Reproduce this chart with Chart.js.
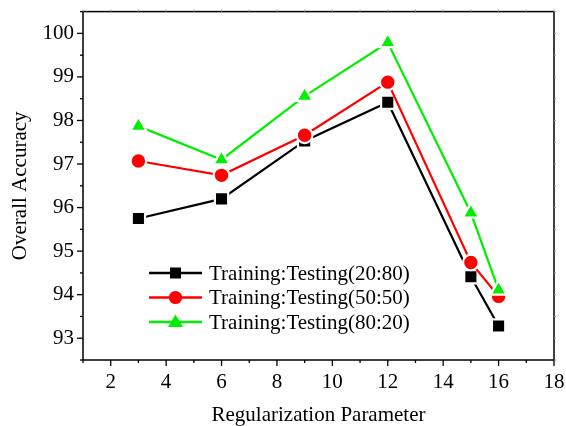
<!DOCTYPE html>
<html>
<head>
<meta charset="utf-8">
<script src="https://cdn.jsdelivr.net/npm/chart.js@4/dist/chart.umd.min.js"></script>
<style>
  html, body { margin: 0; padding: 0; background: #fff; }
  #wrap { width: 566px; height: 426px; }
</style>
</head>
<body>
<div id="wrap"><canvas id="c" width="566" height="426"></canvas></div>
<script>
// ---- data ----
const xValues = [3, 6, 9, 12, 15, 16];
const seriesLabels = ['Training:Testing(20:80)', 'Training:Testing(50:50)', 'Training:Testing(80:20)'];
const acc2080 = [95.75, 96.20, 97.53, 98.42, 94.41, 93.28];
const acc5050 = [97.07, 96.74, 97.66, 98.88, 94.74, 93.96];
const acc8020 = [97.87, 97.10, 98.56, 99.79, 95.88, 94.11];
const xTickLabels = [2, 4, 6, 8, 10, 12, 14, 16, 18];
const yTickLabels = [93, 94, 95, 96, 97, 98, 99, 100];
const xTitle = 'Regularization Parameter';
const yTitle = 'Overall Accuracy';

const FONT = "'Liberation Serif', 'Times New Roman', serif";

function pts(vals) { return xValues.map((x, i) => ({ x: x, y: vals[i] })); }

const styles = [
  { color: '#000000', shape: 'rect', radius: 9.4 },
  { color: '#ff0000', shape: 'circle', radius: 7.8 },
  { color: '#00ee00', shape: 'triangle', radius: 9.4 }
];
const seriesData = [acc2080, acc5050, acc8020];

const datasets = seriesData.map((vals, i) => ({
  label: seriesLabels[i],
  data: pts(vals),
  borderColor: styles[i].color,
  backgroundColor: styles[i].color,
  borderWidth: 2.2,
  pointStyle: styles[i].shape,
  pointRadius: styles[i].radius,
  pointHoverRadius: styles[i].radius,
  pointBackgroundColor: styles[i].color,
  pointBorderColor: '#ffffff',
  pointBorderWidth: 2.2,
  tension: 0,
  order: 2 - i
}));

function drawMarker(ctx, shape, x, y, color) {
  ctx.save();
  ctx.fillStyle = color;
  ctx.beginPath();
  if (shape === 'rect') {
    ctx.rect(x - 5.5, y - 5.5, 11, 11);
  } else if (shape === 'circle') {
    ctx.arc(x, y, 6.6, 0, Math.PI * 2);
  } else {
    ctx.moveTo(x, y - 7.5);
    ctx.lineTo(x + 7.5, y + 5);
    ctx.lineTo(x - 7.5, y + 5);
    ctx.closePath();
  }
  ctx.fill();
  ctx.restore();
}

const framePlugin = {
  id: 'frame',
  afterDraw(chart) {
    const ctx = chart.ctx;
    const a = chart.chartArea;
    const xs = chart.scales.x, ys = chart.scales.y;
    ctx.save();
    // frame
    ctx.strokeStyle = '#000';
    ctx.lineWidth = 1.5;
    ctx.strokeRect(a.left, a.top, a.right - a.left, a.bottom - a.top);
    // bottom / left ticks
    ctx.lineWidth = 1.3;
    for (let v = 1; v <= 18; v++) {
      const px = xs.getPixelForValue(v);
      const len = (v % 2 === 0) ? 6 : 3;
      ctx.beginPath(); ctx.moveTo(px, a.bottom); ctx.lineTo(px, a.bottom + len); ctx.stroke();
    }
    for (let v = 92.5; v <= 100.5001; v += 0.5) {
      const py = ys.getPixelForValue(v);
      const len = (Math.abs(v - Math.round(v)) < 1e-6) ? 6 : 3;
      ctx.beginPath(); ctx.moveTo(a.left, py); ctx.lineTo(a.left - len, py); ctx.stroke();
    }
    // faint top / right ticks
    ctx.strokeStyle = '#999';
    ctx.lineWidth = 1;
    for (let v = 1; v <= 18; v++) {
      const px = xs.getPixelForValue(v);
      ctx.beginPath(); ctx.moveTo(px, a.top); ctx.lineTo(px, a.top - 2); ctx.stroke();
    }
    for (let v = 92.5; v <= 100.5001; v += 0.5) {
      const py = ys.getPixelForValue(v);
      ctx.beginPath(); ctx.moveTo(a.right, py); ctx.lineTo(a.right + 2, py); ctx.stroke();
    }
    // legend
    const lx0 = 149, lx1 = 202, tx = 209;
    const rows = [273, 297.5, 322];
    ctx.font = '21px ' + FONT;
    ctx.textBaseline = 'middle';
    ctx.textAlign = 'left';
    chart.data.datasets.forEach((ds, i) => {
      const y = rows[i];
      ctx.strokeStyle = ds.borderColor;
      ctx.lineWidth = 2.5;
      ctx.beginPath(); ctx.moveTo(lx0, y); ctx.lineTo(lx1, y); ctx.stroke();
      drawMarker(ctx, ds.pointStyle, (lx0 + lx1) / 2, y, ds.borderColor);
      ctx.fillStyle = '#000';
      ctx.fillText(ds.label, tx, y + 1);
    });
    ctx.restore();
  }
};

new Chart(document.getElementById('c'), {
  type: 'line',
  data: { datasets: datasets },
  options: {
    responsive: false,
    animation: false,
    devicePixelRatio: 1,
    layout: { padding: { left: 0, top: 9, right: 12, bottom: 0 } },
    plugins: { legend: { display: false }, tooltip: { enabled: false } },
    scales: {
      x: {
        type: 'linear',
        min: 1, max: 18,
        grid: { display: false, drawTicks: false },
        border: { display: false },
        afterFit(s) { s.height = 66; s.paddingLeft = 0; s.paddingRight = 0; },
        afterBuildTicks(s) { s.ticks = xTickLabels.map(v => ({ value: v })); },
        ticks: {
          autoSkip: false,
          maxRotation: 0,
          padding: 10,
          color: '#000',
          font: { family: FONT, size: 21 },
          callback: (v) => String(v)
        },
        title: {
          display: true, text: xTitle, color: '#000',
          font: { family: FONT, size: 21, lineHeight: 1.0 },
          padding: { top: 0, bottom: 0 }
        }
      },
      y: {
        type: 'linear',
        min: 92.5, max: 100.5,
        grid: { display: false, drawTicks: false },
        border: { display: false },
        afterFit(s) { s.width = 83; s.paddingTop = 0; s.paddingBottom = 0; },
        afterBuildTicks(s) { s.ticks = yTickLabels.map(v => ({ value: v })); },
        ticks: {
          autoSkip: false,
          padding: 9,
          color: '#000',
          font: { family: FONT, size: 21 },
          callback: (v) => String(v)
        },
        title: {
          display: true, text: yTitle, color: '#000',
          font: { family: FONT, size: 21, lineHeight: 1.2 },
          padding: { top: 8, bottom: 0 }
        }
      }
    }
  },
  plugins: [framePlugin]
});
</script>
</body>
</html>
